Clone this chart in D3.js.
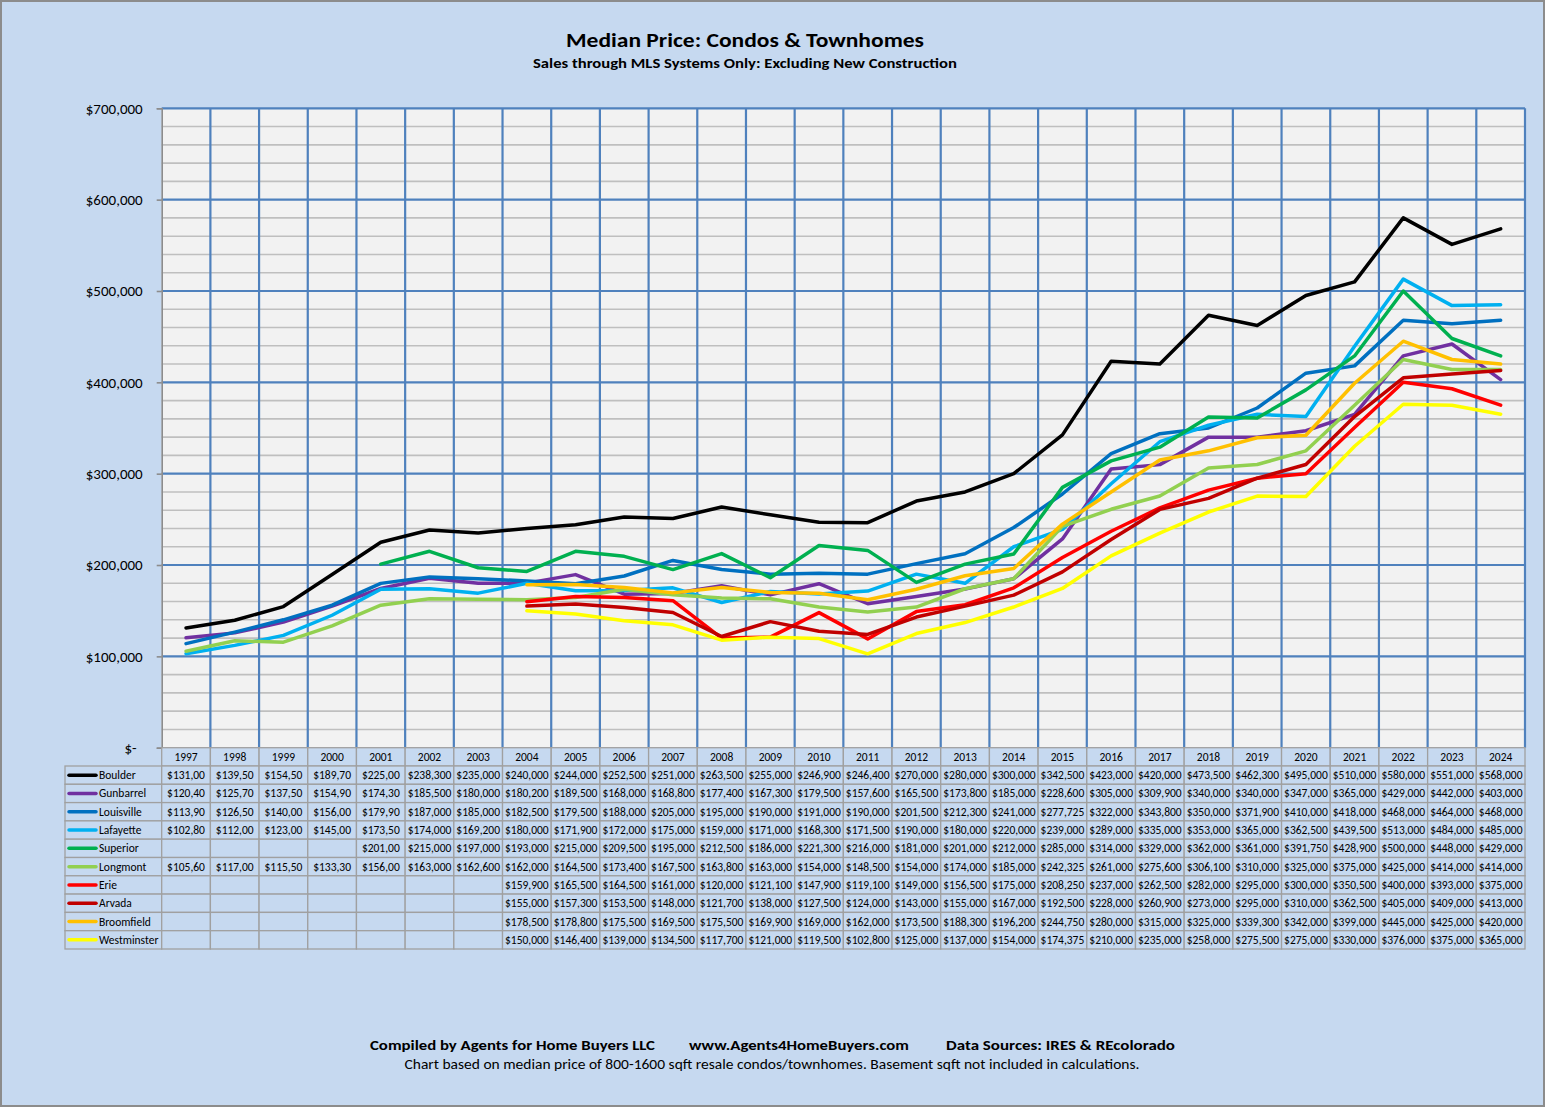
<!DOCTYPE html>
<html>
<head>
<meta charset="utf-8">
<script src="https://cdn.jsdelivr.net/npm/d3@7"></script>
<style>
  html, body { margin: 0; padding: 0; background: #C6D9F0; }
  svg { display: block; }
</style>
</head>
<body>
<svg id="chart" width="1545" height="1107"></svg>
<script>
// ---------------- DATA ----------------
const years = [1997,1998,1999,2000,2001,2002,2003,2004,2005,2006,2007,2008,2009,2010,2011,2012,2013,2014,2015,2016,2017,2018,2019,2020,2021,2022,2023,2024];

const seriesNames = ["Boulder","Gunbarrel","Louisville","Lafayette","Superior","Longmont","Erie","Arvada","Broomfield","Westminster"];
const seriesColors = ["#000000","#7030A0","#0070C0","#00B0F0","#00B050","#92D050","#FF0000","#C00000","#FFC000","#FFFF00"];

const boulder     = [131000,139500,154500,189700,225000,238300,235000,240000,244000,252500,251000,263500,255000,246900,246400,270000,280000,300000,342500,423000,420000,473500,462300,495000,510000,580000,551000,568000];
const gunbarrel   = [120400,125700,137500,154900,174300,185500,180000,180200,189500,168000,168800,177400,167300,179500,157600,165500,173800,185000,228600,305000,309900,340000,340000,347000,365000,429000,442000,403000];
const louisville  = [113900,126500,140000,156000,179900,187000,185000,182500,179500,188000,205000,195000,190000,191000,190000,201500,212300,241000,277725,322000,343800,350000,371900,410000,418000,468000,464000,468000];
const lafayette   = [102800,112000,123000,145000,173500,174000,169200,180000,171900,172000,175000,159000,171000,168300,171500,190000,180000,220000,239000,289000,335000,353000,365000,362500,439500,513000,484000,485000];
const superior    = [null,null,null,null,201000,215000,197000,193000,215000,209500,195000,212500,186000,221300,216000,181000,201000,212000,285000,314000,329000,362000,361000,391750,428900,500000,448000,429000];
const longmont    = [105600,117000,115500,133300,156000,163000,162600,162000,164500,173400,167500,163800,163000,154000,148500,154000,174000,185000,242325,261000,275600,306100,310000,325000,375000,425000,414000,414000];
const erie        = [null,null,null,null,null,null,null,159900,165500,164500,161000,120000,121100,147900,119100,149000,156500,175000,208250,237000,262500,282000,295000,300000,350500,400000,393000,375000];
const arvada      = [null,null,null,null,null,null,null,155000,157300,153500,148000,121700,138000,127500,124000,143000,155000,167000,192500,228000,260900,273000,295000,310000,362500,405000,409000,413000];
const broomfield  = [null,null,null,null,null,null,null,178500,178800,175500,169500,175500,169900,169000,162000,173500,188300,196200,244750,280000,315000,325000,339300,342000,399000,445000,425000,420000];
const westminster = [null,null,null,null,null,null,null,150000,146400,139000,134500,117700,121000,119500,102800,125000,137000,154000,174375,210000,235000,258000,275500,275000,330000,376000,375000,365000];

const seriesValues = [boulder,gunbarrel,louisville,lafayette,superior,longmont,erie,arvada,broomfield,westminster];

const yTicks = [0,100000,200000,300000,400000,500000,600000,700000];
// In the source table, values in these early columns are clipped by one character
const tableClippedThroughYear = 2001;

const titleText = "Median Price: Condos & Townhomes";
const subtitleText = "Sales through MLS Systems Only: Excluding  New Construction";
const footer1a = "Compiled by Agents for Home Buyers LLC";
const footer1b = "www.Agents4HomeBuyers.com";
const footer1c = "Data Sources:  IRES & REcolorado";
const footer2 = "Chart based on  median price of 800-1600 sqft resale condos/townhomes.  Basement sqft not included in calculations.";

// ---------------- LAYOUT ----------------
const svg = d3.select("#chart");
const W = 1545, H = 1107;
const plot = {left: 161.7, right: 1525, top: 108.3, bottom: 747.7};
const font = "Calibri, Carlito, 'Liberation Sans', Arial, sans-serif";

svg.append("rect").attr("x",1).attr("y",1).attr("width",W-2).attr("height",H-2)
  .attr("fill","#C6D9F0").attr("stroke","#8C8C8C").attr("stroke-width",2);

const x = d3.scaleBand().domain(years).range([plot.left, plot.right]).padding(0);
const xc = y => x(y) + x.bandwidth()/2;
const y = d3.scaleLinear().domain([0,700000]).range([plot.bottom, plot.top]);

// plot background
svg.append("rect").attr("x",plot.left).attr("y",plot.top)
  .attr("width",plot.right-plot.left).attr("height",plot.bottom-plot.top)
  .attr("fill","#F2F2F2");

// minor gridlines (every 20,000)
const minorTicks = d3.range(20000, 700000, 20000).filter(v => v % 100000 !== 0);
svg.append("g").selectAll("line").data(minorTicks).join("line")
  .attr("x1",plot.left).attr("x2",plot.right)
  .attr("y1",d=>y(d)).attr("y2",d=>y(d))
  .attr("stroke","#BFBFBF").attr("stroke-width",1.6);

// major gridlines
svg.append("g").selectAll("line").data(yTicks.filter(d=>d>0)).join("line")
  .attr("x1",plot.left).attr("x2",plot.right)
  .attr("y1",d=>y(d)).attr("y2",d=>y(d))
  .attr("stroke","#4F81BD").attr("stroke-width",2.2);

// vertical gridlines at category boundaries
const boundaries = years.slice(1).map(d=>x(d)).concat([plot.right]);
svg.append("g").selectAll("line").data(boundaries).join("line")
  .attr("x1",d=>d).attr("x2",d=>d)
  .attr("y1",plot.top).attr("y2",plot.bottom)
  .attr("stroke","#4F81BD").attr("stroke-width",2.2);

// y axis
const yAxis = d3.axisLeft(y).tickValues(yTicks).tickSize(5).tickPadding(14)
  .tickFormat(d => d === 0 ? "$-" : "$" + d3.format(",")(d));
const ga = svg.append("g").attr("transform",`translate(${plot.left},0)`).call(yAxis);
ga.select(".domain").attr("stroke","#8C8C8C").attr("stroke-width",1.6);
ga.selectAll(".tick line").attr("stroke","#8C8C8C").attr("stroke-width",1.6);
ga.selectAll(".tick text").attr("font-family",font).attr("font-size",15).attr("fill","#000")
  .attr("dx", d => d === 0 ? -6 : 0);

// series lines
const line = d3.line()
  .defined(d => d.v != null)
  .x(d => xc(d.year)).y(d => y(d.v))
  .curve(d3.curveLinear);

svg.append("g").selectAll("path").data(seriesValues).join("path")
  .attr("d", vals => line(vals.map((v,i)=>({year:years[i], v}))))
  .attr("fill","none")
  .attr("stroke",(d,i)=>seriesColors[i])
  .attr("stroke-width",3.5)
  .attr("stroke-linejoin","round")
  .attr("stroke-linecap","round");

// ---------------- DATA TABLE ----------------
const table = svg.append("g");
const rowH = 18.3;
const headTop = plot.bottom, headBottom = 766;
const tableLeft = 65;
const gridStroke = "#A0A0A0";
const tfs = 11.5;

// header cells (years)
years.forEach(yr => {
  table.append("rect").attr("x",x(yr)).attr("y",headTop)
    .attr("width",x.bandwidth()).attr("height",headBottom-headTop)
    .attr("fill","#C6D9F0").attr("stroke",gridStroke).attr("stroke-width",1.3);
  table.append("text").attr("x",xc(yr)).attr("y",(headTop+headBottom)/2+4)
    .attr("text-anchor","middle").attr("font-family",font).attr("font-size",tfs)
    .attr("fill","#000").text(yr);
});

seriesNames.forEach((name, r) => {
  const top = headBottom + r*rowH;
  // label cell
  table.append("rect").attr("x",tableLeft).attr("y",top)
    .attr("width",plot.left-tableLeft).attr("height",rowH)
    .attr("fill","#C6D9F0").attr("stroke",gridStroke).attr("stroke-width",1.3);
  table.append("line").attr("x1",69).attr("x2",96).attr("y1",top+rowH/2).attr("y2",top+rowH/2)
    .attr("stroke",seriesColors[r]).attr("stroke-width",3.5).attr("stroke-linecap","round");
  table.append("text").attr("x",99).attr("y",top+rowH/2+4)
    .attr("font-family",font).attr("font-size",tfs).attr("fill","#000").text(name);
  // value cells
  years.forEach((yr, i) => {
    table.append("rect").attr("x",x(yr)).attr("y",top)
      .attr("width",x.bandwidth()).attr("height",rowH)
      .attr("fill","#C6D9F0").attr("stroke",gridStroke).attr("stroke-width",1.3);
    const v = seriesValues[r][i];
    if (v != null) {
      let label = "$" + d3.format(",")(v);
      if (yr <= tableClippedThroughYear) label = label.slice(0, label.length-1);
      table.append("text").attr("x",xc(yr)).attr("y",top+rowH/2+4)
        .attr("text-anchor","middle").attr("font-family",font).attr("font-size",tfs)
        .attr("fill","#000").text(label);
    }
  });
});

// shrink any value text that overflows its cell
table.selectAll("text").each(function(){
  const w = this.getComputedTextLength();
  const max = x.bandwidth() - 3;
  if (w > max && this.textContent.startsWith("$")) {
    d3.select(this).attr("textLength", max).attr("lengthAdjust","spacingAndGlyphs");
  }
});

// ---------------- TITLES & FOOTER ----------------
function fitText(sel, targetWidth) {
  const w = sel.node().getComputedTextLength();
  if (Math.abs(w - targetWidth) > 4) sel.attr("textLength", targetWidth).attr("lengthAdjust","spacingAndGlyphs");
  return sel;
}

fitText(svg.append("text").attr("x",745).attr("y",47).attr("text-anchor","middle")
  .attr("font-family",font).attr("font-weight","bold").attr("font-size",21).attr("fill","#000")
  .text(titleText), 358);

fitText(svg.append("text").attr("x",745).attr("y",68).attr("text-anchor","middle")
  .attr("font-family",font).attr("font-weight","bold").attr("font-size",14).attr("fill","#000")
  .text(subtitleText), 424);

fitText(svg.append("text").attr("x",370).attr("y",1050)
  .attr("font-family",font).attr("font-weight","bold").attr("font-size",14.5).attr("fill","#000")
  .text(footer1a), 285);
fitText(svg.append("text").attr("x",689).attr("y",1050)
  .attr("font-family",font).attr("font-weight","bold").attr("font-size",14.5).attr("fill","#000")
  .text(footer1b), 220);
fitText(svg.append("text").attr("x",946).attr("y",1050)
  .attr("font-family",font).attr("font-weight","bold").attr("font-size",14.5).attr("fill","#000")
  .text(footer1c), 229);

fitText(svg.append("text").attr("x",772).attr("y",1069).attr("text-anchor","middle")
  .attr("font-family",font).attr("font-size",13.5).attr("fill","#000")
  .text(footer2), 735);
</script>
</body>
</html>
